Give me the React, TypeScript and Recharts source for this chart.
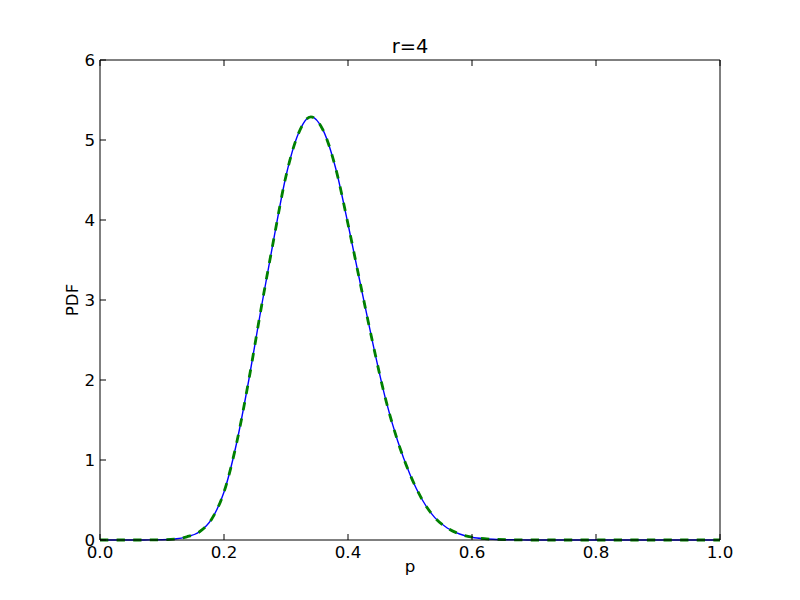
import { LineChart, Line, XAxis, YAxis } from "recharts";

// p grid, read every 0.02
const pValues = [
  0, 0.02, 0.04, 0.06, 0.08, 0.1, 0.12, 0.14, 0.16, 0.18, 0.2, 0.22, 0.24, 0.26, 0.28, 0.3, 0.32,
  0.34, 0.36, 0.38, 0.4, 0.42, 0.44, 0.46, 0.48, 0.5, 0.52, 0.54, 0.56, 0.58, 0.6, 0.62, 0.64,
  0.66, 0.68, 0.7, 0.72, 0.74, 0.76, 0.78, 0.8, 0.82, 0.84, 0.86, 0.88, 0.9, 0.92, 0.94, 0.96,
  0.98, 1.0,
];

// blue solid curve
const pdfExact = [
  0, 0, 0, 0, 0.001, 0.003, 0.012, 0.04, 0.1, 0.26, 0.6, 1.2, 2.0, 2.9, 3.75, 4.55, 5.08,
  5.29, 5.12, 4.65, 3.95, 3.2, 2.46, 1.78, 1.24, 0.82, 0.5, 0.28, 0.15, 0.075, 0.035, 0.016, 0.007,
  0.003, 0.001, 0, 0, 0, 0, 0, 0, 0, 0, 0, 0, 0, 0, 0, 0,
  0, 0,
];

// green dashed curve (sits on top of the blue one)
const pdfApprox = [
  0, 0, 0, 0, 0.001, 0.003, 0.012, 0.04, 0.1, 0.26, 0.6, 1.2, 2.0, 2.9, 3.75, 4.55, 5.08,
  5.29, 5.12, 4.65, 3.95, 3.2, 2.46, 1.78, 1.24, 0.82, 0.5, 0.28, 0.15, 0.075, 0.035, 0.016, 0.007,
  0.003, 0.001, 0, 0, 0, 0, 0, 0, 0, 0, 0, 0, 0, 0, 0, 0,
  0, 0,
];

const xTicks = [0, 0.2, 0.4, 0.6, 0.8, 1.0];
const yTicks = [0, 1, 2, 3, 4, 5, 6];

const rows = pValues.map((p, i) => ({ p, exact: pdfExact[i], approx: pdfApprox[i] }));

const font = "DejaVu Sans";
const tickStyle = { fill: "#000", fontSize: 16.7, fontFamily: font };
const blank = () => "";

export default function App() {
  return (
    <div style={{ position: "absolute", left: 0, top: 0, width: 800, height: 600, background: "#fff" }}>
      <LineChart width={800} height={600} data={rows} margin={{ top: 50, right: 70, bottom: 30, left: 60 }}>
        <XAxis
          xAxisId="bottom"
          dataKey="p"
          type="number"
          domain={[0, 1]}
          ticks={xTicks}
          tickFormatter={(v: number) => v.toFixed(1)}
          height={30}
          stroke="#000"
          tickSize={-6}
          tickMargin={12.4}
          tick={tickStyle}
          label={{ value: "p", position: "insideTop", offset: 20, fill: "#000", fontSize: 16.7, fontFamily: font }}
        />
        <XAxis
          xAxisId="top"
          orientation="top"
          dataKey="p"
          type="number"
          domain={[0, 1]}
          ticks={xTicks}
          tickFormatter={blank}
          height={10}
          stroke="#000"
          tickSize={-6}
          label={{ value: "r=4", position: "top", offset: -3, fill: "#000", fontSize: 19.4, fontFamily: font }}
        />
        <YAxis
          yAxisId="left"
          type="number"
          domain={[0, 6]}
          ticks={yTicks}
          width={40}
          stroke="#000"
          tickSize={-6}
          tickMargin={11}
          tick={tickStyle}
          label={{
            value: "PDF",
            angle: -90,
            position: "insideLeft",
            offset: 12,
            fill: "#000",
            fontSize: 16.7,
            fontFamily: font,
            style: { textAnchor: "middle" },
          }}
        />
        <YAxis
          yAxisId="right"
          orientation="right"
          type="number"
          domain={[0, 6]}
          ticks={yTicks}
          tickFormatter={blank}
          width={10}
          stroke="#000"
          tickSize={-6}
        />
        <Line
          xAxisId="bottom"
          yAxisId="left"
          type="monotone"
          dataKey="exact"
          stroke="#0000ff"
          strokeWidth={1.4}
          dot={false}
          isAnimationActive={false}
        />
        <Line
          xAxisId="bottom"
          yAxisId="left"
          type="monotone"
          dataKey="approx"
          stroke="#008000"
          strokeWidth={2.8}
          strokeDasharray="8.3 8.3"
          dot={false}
          isAnimationActive={false}
        />
      </LineChart>
    </div>
  );
}
